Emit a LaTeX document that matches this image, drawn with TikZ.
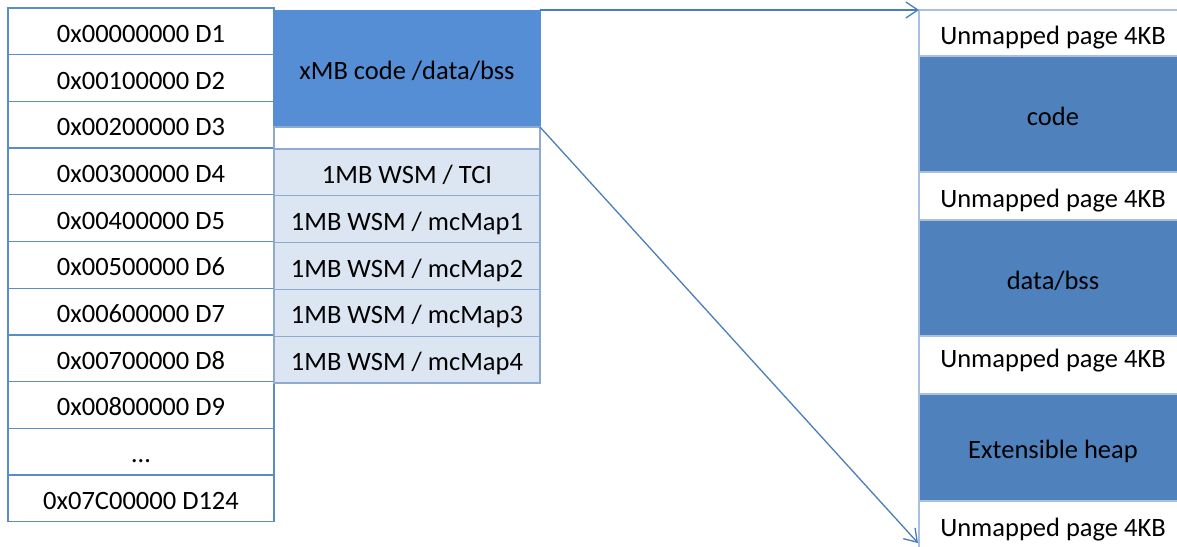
\documentclass[tikz,border=0pt]{standalone}
\usepackage{fontspec}
\setmainfont{Carlito}
\usetikzlibrary{arrows.meta}
\definecolor{leftline}{HTML}{5B8BC8}
\definecolor{codeblue}{HTML}{558ED5}
\definecolor{darkblue}{HTML}{4F81BD}
\definecolor{lightfill}{HTML}{DCE6F2}
\definecolor{lightline}{HTML}{8FAAD0}
\definecolor{paleline}{HTML}{A9C0E0}
\definecolor{arrowblue}{HTML}{4A7EBB}
\begin{document}
\begin{tikzpicture}[x=1pt,y=-1pt,
  font=\fontsize{26.5}{30}\selectfont,
  base/.style={inner sep=0pt, outer sep=0pt, anchor=north west, text height=22pt, text depth=0pt},
  cell/.style={base, draw=leftline, line width=1.3pt, fill=white, minimum width=266pt, minimum height=46.7pt},
  wsm/.style={base, draw=lightline, line width=1.2pt, fill=lightfill, minimum width=266pt, minimum height=46.8pt},
  unm/.style={base, draw=paleline, line width=1.2pt, fill=white, minimum width=268pt},
  seg/.style={base, draw=paleline, line width=1.2pt, fill=darkblue, minimum width=268pt},
  conn/.style={draw=arrowblue, line width=1.3pt, -{Straight Barb[length=12pt,width=16pt]}}]
\useasboundingbox (0,0) rectangle (1177,546);

% left column
\foreach \t [count=\i from 0] in {0x00000000 D1,0x00100000 D2,0x00200000 D3,0x00300000 D4,0x00400000 D5,0x00500000 D6,0x00600000 D7,0x00700000 D8,0x00800000 D9,…,0x07C00000 D124}
  \node[cell] (L\i) at (8,8+46.7*\i) {\t};

% middle column
\node[base, fill=codeblue, draw=codeblue, line width=1pt, minimum width=266pt, minimum height=117pt] (xmb) at (274,10) {xMB code /data/bss};
\node[base, draw=lightline, line width=1.2pt, fill=white, minimum width=266pt, minimum height=20pt] (gap) at (274,127) {};
\foreach \t [count=\i from 0] in {1MB WSM / TCI,1MB WSM / mcMap1,1MB WSM / mcMap2,1MB WSM / mcMap3,1MB WSM / mcMap4}
  \node[wsm] (W\i) at (274,149+46.8*\i) {\t};

% right column
\node[unm, minimum height=46pt] (u1) at (919,10) {Unmapped page 4KB};
\node[seg, minimum height=116pt] (code) at (919,56) {code};
\node[unm, minimum height=48pt] (u2) at (919,172) {Unmapped page 4KB};
\node[seg, minimum height=116pt] (data) at (919,220) {data/bss};
\node[unm, minimum height=58pt, text depth=18pt] (u3) at (919,336) {Unmapped page 4KB};
\node[seg, minimum height=107pt] (heap) at (919,394) {Extensible heap};
\node[unm, minimum height=48pt] (u4) at (919,501) {Unmapped page 4KB};

% connectors
\coordinate (e2) at (918,543);
\draw[conn] (xmb.north east) -- (u1.north west);
\draw[conn] (xmb.south east) -- (e2);
\end{tikzpicture}
\end{document}
